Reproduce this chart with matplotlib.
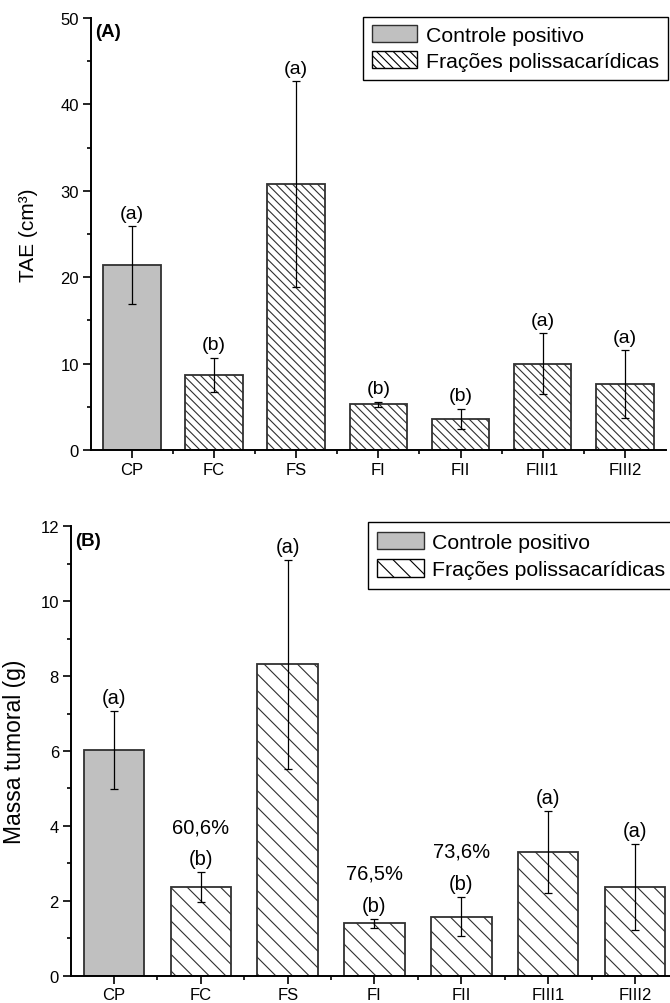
import matplotlib
matplotlib.use('Agg')
import matplotlib.pyplot as plt
from matplotlib.patches import Patch
from matplotlib.ticker import MultipleLocator
import numpy as np

plt.rcParams['font.family'] = ['Liberation Sans', 'DejaVu Sans']
plt.rcParams['hatch.linewidth'] = 0.8

# ==========================================
# DATA
# ==========================================
categories = ['CP', 'FC', 'FS', 'FI', 'FII', 'FIII1', 'FIII2']

tae_mean = [21.4, 8.7, 30.8, 5.3, 3.6, 10.0, 7.6]
tae_err = [4.5, 2.0, 11.9, 0.3, 1.2, 3.5, 3.95]
tae_letters = ['(a)', '(b)', '(a)', '(b)', '(b)', '(a)', '(a)']

mass_mean = [6.02, 2.36, 8.31, 1.40, 1.58, 3.30, 2.37]
mass_err = [1.04, 0.40, 2.78, 0.12, 0.52, 1.10, 1.15]
mass_letters = ['(a)', '(b)', '(a)', '(b)', '(b)', '(a)', '(a)']
mass_pct = ['', '60,6%', '', '76,5%', '73,6%', '', '']

legend_labels = ['Controle positivo', 'Frações polissacarídicas']

GRAY = '#c0c0c0'
EDGE = '#303030'


def draw_panel(ax, means, errs, letters, hatch, ylim, major, minor,
               ylabel, tag, letter_size, pcts=None):
    x = np.arange(len(categories))
    for i in x:
        if i == 0:
            ax.bar(i, means[i], width=0.7, color=GRAY, edgecolor=EDGE, lw=1.3, zorder=2)
        else:
            ax.bar(i, means[i], width=0.7, color='white', edgecolor=EDGE, lw=1.3,
                   hatch=hatch, zorder=2)
    ax.errorbar(x, means, yerr=errs, fmt='none', ecolor='black', elinewidth=0.9,
                capsize=3, capthick=0.9, zorder=3)

    for i in x:
        top = means[i] + errs[i]
        ax.annotate(letters[i], (i, top), xytext=(0, 3), textcoords='offset points',
                    ha='center', va='bottom', fontsize=letter_size)
        if pcts and pcts[i]:
            ax.annotate(pcts[i], (i, top), xytext=(0, 26), textcoords='offset points',
                        ha='center', va='bottom', fontsize=letter_size)

    ax.set_xlim(-0.5, 6.5)
    ax.set_ylim(*ylim)
    ax.set_xticks(x)
    ax.set_xticklabels(categories)
    ax.set_xticks(x[:-1] + 0.5, minor=True)
    ax.yaxis.set_major_locator(MultipleLocator(major))
    ax.yaxis.set_minor_locator(MultipleLocator(minor))
    ax.tick_params(which='major', direction='out', length=5.5, width=1.2,
                   labelsize=12, pad=3)
    ax.tick_params(which='minor', direction='out', length=2.8, width=1.2)
    for side in ['top', 'right']:
        ax.spines[side].set_visible(False)
    for side in ['left', 'bottom']:
        ax.spines[side].set_linewidth(1.4)
    ax.set_ylabel(ylabel)
    ax.text(0.008, 0.968, tag, transform=ax.transAxes, fontsize=13.5,
            fontweight='bold', ha='left', va='center')


fig = plt.figure(figsize=(6.7, 10.04), dpi=100)

# (A) tumour volume
axA = fig.add_axes([0.1354, 0.5508, 0.8586, 0.4303])
draw_panel(axA, tae_mean, tae_err, tae_letters, '\\\\\\\\', (0, 50), 10, 5,
           'TAE (cm³)', '(A)', 14)
axA.yaxis.label.set_size(15)
axA.yaxis.labelpad = 16
handlesA = [Patch(facecolor=GRAY, edgecolor=EDGE, lw=1.0),
            Patch(facecolor='white', edgecolor='black', hatch='\\\\\\\\', lw=1.0)]
legA = fig.legend(handlesA, legend_labels, loc='upper right',
                  bbox_to_anchor=(0.9963, 0.9824), fontsize=15.3, fancybox=False,
                  edgecolor='black', framealpha=1, borderpad=0.4,
                  handlelength=2.15, handleheight=0.85, handletextpad=0.4,
                  labelspacing=0.3, borderaxespad=0)
legA.get_frame().set_linewidth(1.0)

# (B) tumour mass
axB = fig.add_axes([0.1055, 0.0272, 0.9069, 0.4476])
draw_panel(axB, mass_mean, mass_err, mass_letters, '\\\\', (0, 12), 2, 1,
           'Massa tumoral (g)', '(B)', 14.5, mass_pct)
axB.yaxis.label.set_size(16.5)
axB.yaxis.labelpad = 10
handlesB = [Patch(facecolor=GRAY, edgecolor=EDGE, lw=1.0),
            Patch(facecolor='white', edgecolor='black', hatch='\\\\', lw=1.0)]
legB = fig.legend(handlesB, legend_labels, loc='upper left',
                  bbox_to_anchor=(0.549, 0.479), fontsize=15.3, fancybox=False,
                  edgecolor='black', framealpha=1, borderpad=0.45,
                  handlelength=2.2, handleheight=0.9, handletextpad=0.35,
                  labelspacing=0.35, borderaxespad=0)
legB.get_frame().set_linewidth(1.0)

fig.savefig('out.png', dpi=100)
